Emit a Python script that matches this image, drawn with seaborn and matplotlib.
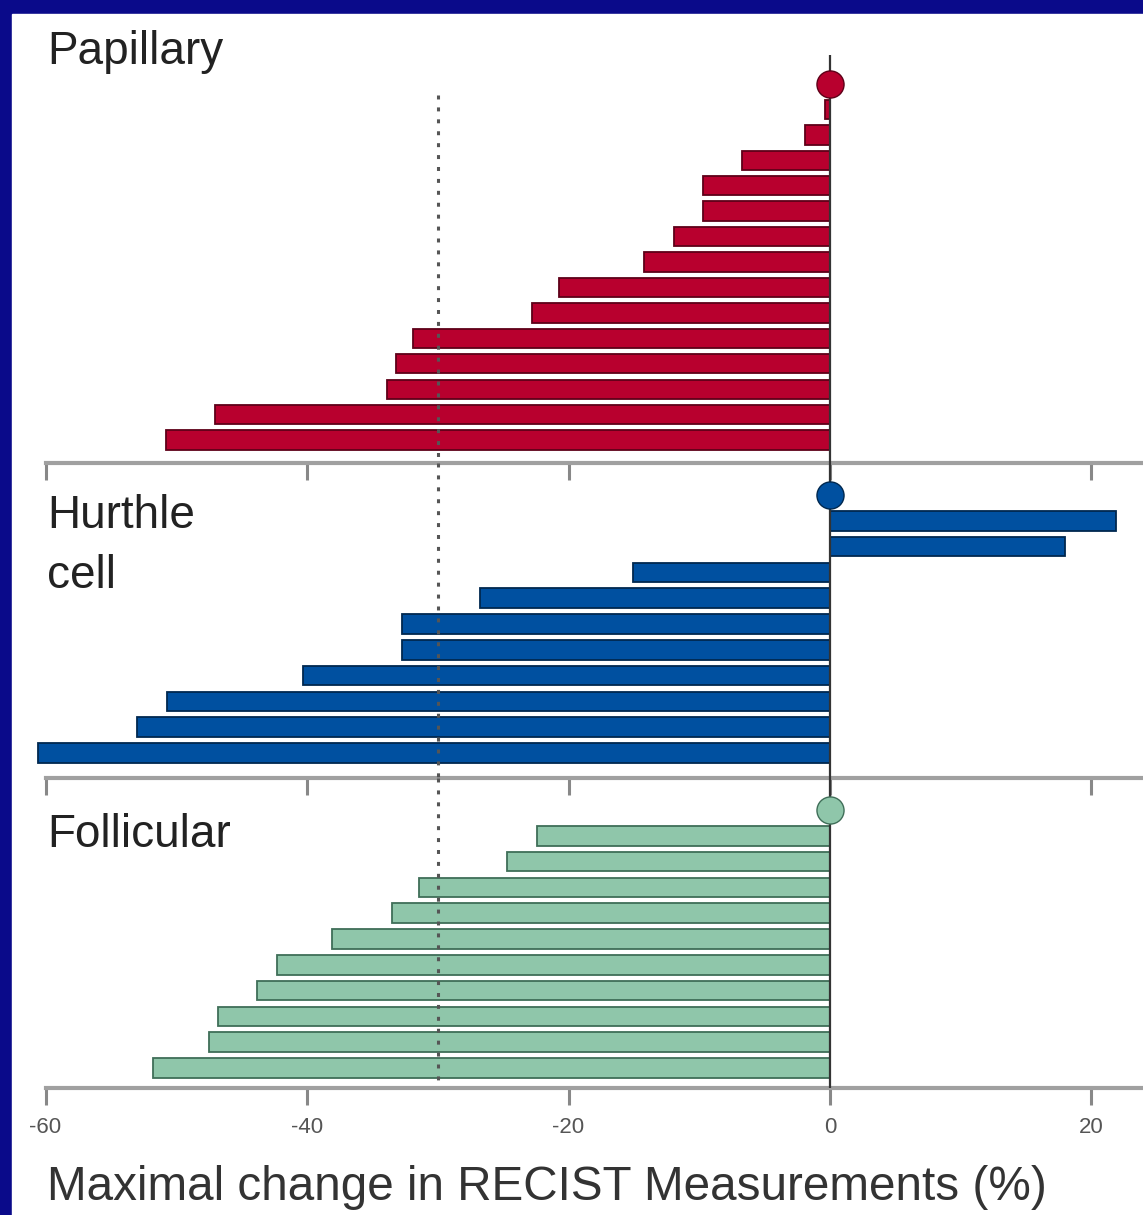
import numpy as np
import pandas as pd
import matplotlib
matplotlib.use("Agg")
import matplotlib.pyplot as plt
import seaborn as sns

# Maximal change in RECIST measurements (%) per patient, by histology.
# The first entry of each group is the patient with no change (drawn as a dot).
papillary = [0, -0.4, -1.9, -6.7, -9.7, -9.7, -11.9, -14.2, -20.7, -22.8,
             -31.9, -33.2, -33.9, -47.0, -50.8]
hurthle = [0, 21.9, 18.0, -15.1, -26.8, -32.7, -32.7, -40.3, -50.7, -53.0, -60.6]
follicular = [0, -22.4, -24.7, -31.4, -33.5, -38.1, -42.3, -43.8, -46.8, -47.5, -51.8]

group_names = ["Papillary", "Hurthle\ncell", "Follicular"]
group_values = [papillary, hurthle, follicular]
bar_colors = ["#b8002e", "#0050a0", "#8fc6aa"]
edge_colors = ["#5e0018", "#00284f", "#3f6e58"]

x_ticks = [-60, -40, -20, 0, 20]
x_label = "Maximal change in RECIST Measurements (%)"
threshold = -30

W, H = 1143, 1215
sns.set_style("white")
plt.rcParams["font.family"] = ["Liberation Sans", "DejaVu Sans"]
plt.rcParams["axes.unicode_minus"] = False

fig = plt.figure(figsize=(W / 100, H / 100), dpi=100)
fig.patch.set_facecolor("#0a0a8a")

# white slide panel
fig.add_artist(plt.Rectangle((12 / W, 0), 1 - 12 / W, 1 - 14 / H,
                             transform=fig.transFigure, color="white", zorder=0))

px_per_unit = (1093 - 47) / 80.0
x_zero_px = 830
xlim = ((12 - x_zero_px) / px_per_unit, (W - x_zero_px) / px_per_unit)

# (top_px, bottom_px, top_pad_rows, bottom_pad_rows)
panels = [(14, 463, 2.75, 0.90), (463, 778, 1.24, 0.97), (778, 1088, 1.24, 0.78)]
label_pos = [(47, 52), (47, 546), (47, 835)]

axes = []
for i, (vals, (top, bot, tpad, bpad)) in enumerate(zip(group_values, panels)):
    ax = fig.add_axes([12 / W, 1 - bot / H, 1 - 12 / W, (bot - top) / H])
    ax.patch.set_alpha(0)
    df = pd.DataFrame({"row": np.arange(len(vals)), "change": vals})
    sns.barplot(data=df, x="change", y="row", orient="h", native_scale=True,
                width=0.76, color=bar_colors[i], saturation=1, errorbar=None,
                edgecolor=edge_colors[i], linewidth=1.3, ax=ax, zorder=2)
    n = len(vals)
    ax.set_xlim(*xlim)
    ax.set_ylim(n - 1 + bpad, -tpad)

    # zero reference line
    zero_top = -1.15 if i == 0 else -tpad
    ax.vlines(0, zero_top, n - 1 + bpad, color="#333333", lw=1.6, zorder=3)
    # -30% threshold (partial response)
    dot_top = 0.43 if i == 0 else -tpad
    ax.vlines(threshold, dot_top, n - 1 + bpad, color="#555555", lw=2.2,
              linestyles=(0, (1.3, 2.6)), zorder=4)

    # patient with no change
    sns.scatterplot(x=[vals[0]], y=[0], s=380, color=bar_colors[i],
                    edgecolor=edge_colors[i], linewidth=1.0, ax=ax, zorder=5,
                    legend=False)

    for s in ["top", "right", "left"]:
        ax.spines[s].set_visible(False)
    ax.spines["bottom"].set_color("#a0a0a0")
    ax.spines["bottom"].set_linewidth(3)
    ax.spines["bottom"].set_bounds(-60, xlim[1])
    ax.set_xticks(x_ticks)
    ax.set_yticks([])
    ax.set_xlabel("")
    ax.set_ylabel("")
    ax.tick_params(axis="x", direction="out", length=12, width=2.2,
                   color="#888888", labelsize=16, labelcolor="#555555", pad=9,
                   bottom=True)
    if i < 2:
        ax.tick_params(axis="x", labelbottom=False)
    else:
        for t in ax.get_xticklabels():
            t.set_fontfamily(["Liberation Sans Narrow", "Liberation Sans", "DejaVu Sans"])
    axes.append(ax)

    lx, ly = label_pos[i]
    fig.text(lx / W, 1 - ly / H, group_names[i], fontsize=33, color="#222222",
             va="center", ha="left", linespacing=1.5)

fig.text(47 / W, 1 - 1188 / H, x_label, fontsize=34.3, color="#333333",
         va="center", ha="left")

fig.savefig("out.png", dpi=100, facecolor=fig.get_facecolor())
